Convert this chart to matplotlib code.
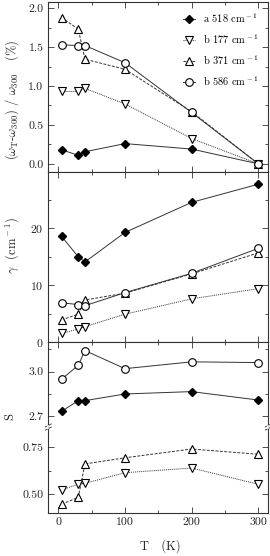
import matplotlib
matplotlib.use("Agg")
import matplotlib.pyplot as plt
from matplotlib.ticker import MultipleLocator

plt.rcParams['font.family'] = ['cmr10', 'DejaVu Serif']
plt.rcParams['mathtext.fontset'] = 'cm'
plt.rcParams['axes.unicode_minus'] = False
plt.rcParams['axes.formatter.use_mathtext'] = True
plt.rcParams['font.size'] = 8.5

T = [5, 30, 40, 100, 200, 300]

# shift (%)
shift_a518 = [0.18, 0.11, 0.155, 0.26, 0.19, 0.0]
shift_b177 = [0.93, 0.93, 0.97, 0.77, 0.325, 0.0]
shift_b371 = [1.88, 1.73, 1.345, 1.215, 0.67, 0.0]
shift_b586 = [1.53, 1.52, 1.52, 1.30, 0.66, 0.0]

# gamma (cm-1)
gam_a518 = [18.6, 15.0, 14.1, 19.3, 24.6, 27.8]
gam_b177 = [1.5, 2.3, 2.7, 4.9, 7.6, 9.4]
gam_b371 = [3.9, 4.9, 7.4, 8.6, 12.0, 15.7]
gam_b586 = [6.9, 6.6, 6.4, 8.7, 12.1, 16.5]

# S
S_a518 = [2.732, 2.804, 2.804, 2.849, 2.865, 2.808]
S_b586 = [2.949, 3.043, 3.142, 3.02, 3.066, 3.061]
S_b177 = [0.521, 0.553, 0.557, 0.614, 0.639, 0.552]
S_b371 = [0.445, 0.482, 0.661, 0.694, 0.741, 0.713]

labels = [r'a 518 cm$^{\rm -1}$', r'b 177 cm$^{\rm -1}$',
          r'b 371 cm$^{\rm -1}$', r'b 586 cm$^{\rm -1}$']

W, H = 270, 556
fig = plt.figure(figsize=(W / 100, H / 100), dpi=100)

def ax_at(top, bottom):
    l = 48.3 / W
    r = 268.3 / W
    return fig.add_axes([l, 1 - bottom / H, r - l, (bottom - top) / H])

lc = '#333333'
lw = 0.7
sty = {
    'a518': dict(marker='D', ms=4.3, mfc='k', mec='k', ls='-', color=lc, lw=lw),
    'b177': dict(marker='v', ms=5.5, mfc='white', mec='k', mew=0.8, ls=(0, (1, 1)), color=lc, lw=lw),
    'b371': dict(marker='^', ms=5.5, mfc='white', mec='k', mew=0.8, ls=(0, (3, 1.5)), color=lc, lw=lw),
    'b586': dict(marker='o', ms=5.5, mfc='white', mec='k', mew=0.8, ls='-', color=lc, lw=lw),
}

def style_ax(ax, top_ticks=True, bottom_ticks=True):
    ax.set_xlim(-15, 315)
    ax.xaxis.set_major_locator(MultipleLocator(100))
    ax.xaxis.set_minor_locator(MultipleLocator(50))
    ax.tick_params(which='both', direction='in', top=top_ticks, bottom=bottom_ticks,
                   right=True, left=True, width=0.6, color='#333333', pad=3.5,
                   labelsize=8.5, labelcolor='#222222')
    ax.tick_params(which='major', length=4)
    ax.tick_params(which='minor', length=2.5)
    for s in ax.spines.values():
        s.set_linewidth(0.8)
        s.set_color('#333333')

# Panel 1
ax1 = ax_at(2, 172)
ax1.plot(T, shift_a518, label=labels[0], **sty['a518'])
ax1.plot(T, shift_b177, label=labels[1], **sty['b177'])
ax1.plot(T, shift_b371, label=labels[2], **sty['b371'])
ax1.plot(T, shift_b586, label=labels[3], **sty['b586'])
style_ax(ax1)
ax1.set_ylim(-0.105, 2.08)
ax1.yaxis.set_minor_locator(MultipleLocator(0.25))
ax1.set_yticks([0.0, 0.5, 1.0, 1.5, 2.0])
ax1.set_yticklabels(['0.0', '0.5', '1.0', '1.5', '2.0'])
ax1.tick_params(labelbottom=False)
leg = ax1.legend(loc='upper right', frameon=False, fontsize=7.5, handlelength=1.2,
                 handletextpad=0.8, labelspacing=0.7, borderaxespad=0.5)

# Panel 2
ax2 = ax_at(172, 342)
ax2.plot(T, gam_a518, **sty['a518'])
ax2.plot(T, gam_b177, **sty['b177'])
ax2.plot(T, gam_b371, **sty['b371'])
ax2.plot(T, gam_b586, **sty['b586'])
style_ax(ax2)
ax2.set_ylim(0, 29.95)
ax2.set_yticks([0, 10, 20])
ax2.yaxis.set_minor_locator(MultipleLocator(5))
ax2.tick_params(labelbottom=False)

# Panel 3 top
ax3 = ax_at(342, 427)
ax3.plot(T, S_a518, **sty['a518'])
ax3.plot(T, S_b586, **sty['b586'])
style_ax(ax3, top_ticks=True, bottom_ticks=False)
ax3.set_ylim(2.626, 3.2)
ax3.set_yticks([2.7, 3.0])
ax3.set_yticklabels(['2.7', '3.0'])
ax3.yaxis.set_minor_locator(MultipleLocator(0.15))
ax3.spines['bottom'].set_visible(False)
ax3.tick_params(labelbottom=False)

# Panel 3 bottom
ax4 = ax_at(427, 513)
ax4.plot(T, S_b177, **sty['b177'])
ax4.plot(T, S_b371, **sty['b371'])
style_ax(ax4, top_ticks=False, bottom_ticks=True)
ax4.set_ylim(0.398, 0.859)
ax4.set_yticks([0.5, 0.75])
ax4.set_yticklabels(['0.50', '0.75'])
ax4.yaxis.set_minor_locator(MultipleLocator(0.125))
ax4.spines['top'].set_visible(False)
ax4.set_xticks([0, 100, 200, 300])
ax4.set_xticklabels(['0', '100', '200', '300'])

# break marks
for xx in (48.3, 268.3):
    for dy in (-1.6, 1.6):
        yc = 427 + dy
        fig.add_artist(plt.Line2D([(xx - 3) / W, (xx + 3) / W],
                                  [1 - (yc + 1.5) / H, 1 - (yc - 1.5) / H],
                                  color='#333333', lw=0.6))
    fig.add_artist(plt.Line2D([xx / W, xx / W], [1 - 425.6 / H, 1 - 428.4 / H],
                              color='white', lw=1.2))

fig.text(12 / W, 1 - 100 / H, r'$(\omega_{\rm T}$-$\omega_{300})$ / $\omega_{300}$   (%)',
         rotation=90, ha='center', va='center', fontsize=9, color='#222222')
fig.text(12 / W, 1 - 246 / H, r'$\gamma$  (cm$^{\rm -1}$)', rotation=90,
         ha='center', va='center', fontsize=9, color='#222222')
fig.text(10 / W, 1 - 417 / H, 'S', rotation=90, ha='center', va='center', fontsize=9,
         color='#222222')
fig.text(160 / W, 1 - 546 / H, 'T   (K)', ha='center', va='center', fontsize=9,
         color='#222222')

fig.savefig('out.png', dpi=100)
